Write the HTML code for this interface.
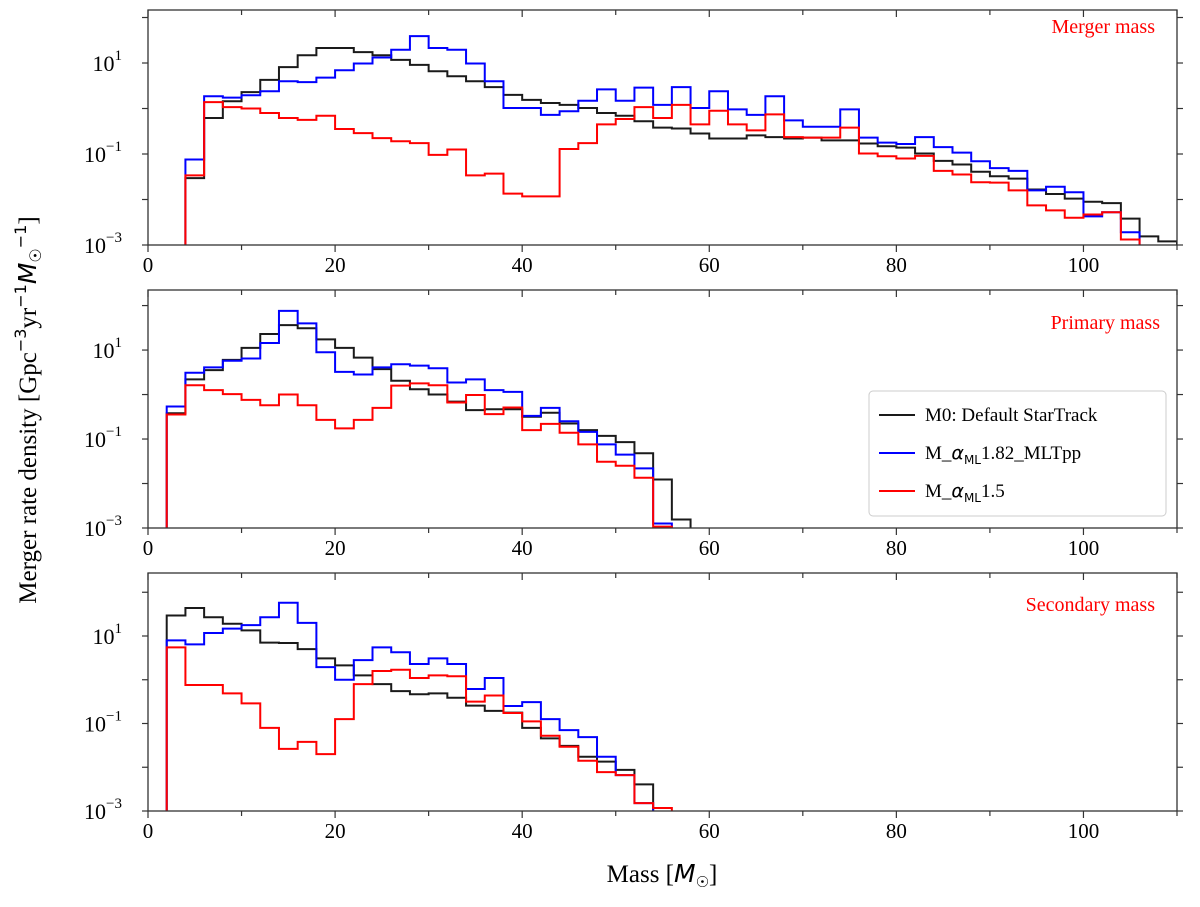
<!DOCTYPE html>
<html><head><meta charset="utf-8"><style>
body{margin:0;background:#fff}
svg text{font-family:"Liberation Serif",serif}
</style></head><body>
<svg id="chart" width="1200" height="902" viewBox="0 0 1200 902" xmlns="http://www.w3.org/2000/svg"></svg>
<script>
// log10 of merger rate density, 2-Msun bins
const mergerStart = 4;
const mergerBlack = [-1.53,-0.21,0.16,0.36,0.63,0.91,1.17,1.33,1.33,1.24,1.17,1.07,0.96,0.82,0.71,0.60,0.47,0.30,0.19,0.12,0.08,0.01,-0.10,-0.16,-0.28,-0.42,-0.44,-0.55,-0.66,-0.66,-0.59,-0.63,-0.66,-0.64,-0.70,-0.70,-0.77,-0.83,-0.86,-0.99,-1.15,-1.23,-1.39,-1.49,-1.54,-1.78,-1.88,-1.98,-2.05,-2.08,-2.42,-2.81,-2.92];
const mergerBlue = [-1.12,0.27,0.24,0.29,0.38,0.60,0.58,0.68,0.84,0.99,1.12,1.29,1.59,1.33,1.29,0.99,0.60,0.01,0.01,-0.14,-0.06,0.17,0.42,0.17,0.46,0.08,0.47,0.01,0.38,-0.02,-0.14,0.27,-0.26,-0.40,-0.40,-0.02,-0.64,-0.75,-0.78,-0.63,-0.85,-0.97,-1.16,-1.31,-1.37,-1.80,-1.72,-1.84,-2.37,-2.28,-2.72];
const mergerRed = [-1.47,0.14,0.03,0.00,-0.10,-0.21,-0.25,-0.16,-0.45,-0.54,-0.65,-0.72,-0.76,-1.02,-0.90,-1.47,-1.43,-1.87,-1.93,-1.93,-0.89,-0.76,-0.35,-0.23,0.03,-0.21,0.08,-0.35,-0.05,-0.35,-0.48,-0.13,-0.63,-0.64,-0.64,-0.42,-0.99,-1.05,-1.10,-1.04,-1.37,-1.45,-1.62,-1.63,-1.80,-2.13,-2.24,-2.40,-2.33,-2.28,-2.88];
const primaryStart = 2;
const primaryBlack = [-0.42,0.34,0.55,0.78,1.05,1.36,1.56,1.49,1.24,1.05,0.83,0.57,0.31,0.12,0.00,-0.16,-0.35,-0.33,-0.33,-0.50,-0.41,-0.65,-0.80,-0.93,-1.07,-1.32,-1.91,-2.81];
const primaryBlue = [-0.27,0.49,0.61,0.76,0.81,1.16,1.88,1.60,0.95,0.51,0.45,0.61,0.68,0.65,0.59,0.27,0.34,0.10,0.06,-0.48,-0.30,-0.60,-0.84,-1.12,-1.35,-1.66,-2.90];
const primaryRed = [-0.45,0.21,0.10,0.01,-0.12,-0.24,0.00,-0.24,-0.57,-0.76,-0.57,-0.30,0.20,0.25,0.21,-0.18,-0.01,-0.44,-0.29,-0.80,-0.66,-0.86,-1.12,-1.51,-1.60,-1.87,-2.97];
const secondaryStart = 2;
const secondaryBlack = [1.47,1.64,1.43,1.28,1.13,0.85,0.84,0.70,0.49,0.33,0.10,-0.10,-0.26,-0.33,-0.31,-0.41,-0.59,-0.71,-0.75,-1.10,-1.34,-1.51,-1.76,-1.87,-2.06,-2.39];
const secondaryBlue = [0.90,0.81,1.07,1.17,1.25,1.43,1.76,1.30,0.29,0.00,0.45,0.74,0.63,0.36,0.49,0.36,-0.21,0.04,-0.60,-0.51,-0.90,-1.15,-1.31,-1.76,-2.18,-2.82];
const secondaryRed = [0.74,-0.12,-0.12,-0.31,-0.54,-1.10,-1.58,-1.42,-1.70,-0.90,-0.10,0.20,0.23,0.04,0.10,0.08,-0.50,-0.36,-0.76,-0.95,-1.28,-1.53,-1.85,-2.11,-2.18,-2.82,-2.93];
const binWidth = 2;
const xTicks = [0,20,40,60,80,100];
const yTickLabels = [["10","1"],["10","\u22121"],["10","\u22123"]];

const NS="http://www.w3.org/2000/svg";
const svg=document.getElementById('chart');
function mk(tag,attrs,parent){const e=document.createElementNS(NS,tag);for(const k in attrs)e.setAttribute(k,attrs[k]);(parent||svg).appendChild(e);return e;}
const L=148,R=1177,XMAX=110;
const xs=v=>L+(v/XMAX)*(R-L);
const panels=[
 {name:'merger',top:10,bot:245,ytop:2.165,start:mergerStart,series:[mergerBlack,mergerBlue,mergerRed],label:'Merger mass',lx:1155,ly:33,xlabels:true},
 {name:'primary',top:290,bot:528,ytop:2.35,start:primaryStart,series:[primaryBlack,primaryBlue,primaryRed],label:'Primary mass',lx:1160,ly:329,xlabels:true},
 {name:'secondary',top:573,bot:811,ytop:2.44,start:secondaryStart,series:[secondaryBlack,secondaryBlue,secondaryRed],label:'Secondary mass',lx:1155,ly:611,xlabels:true}
];
const colors=['#1a1a1a','#0000ff','#ff0000'];
const snames=['m0','mlt','ml15'];
panels.forEach((p,pi)=>{
 const ys=v=>p.bot-(v-(-3))/(p.ytop+3)*(p.bot-p.top);
 const g=mk('g',{});
 
 
 const cid='clip'+pi;
 const cp=mk('clipPath',{id:cid},g);mk('rect',{x:L,y:p.top,width:R-L,height:p.bot-p.top},cp);
 // series
 p.series.forEach((arr,si)=>{
  let d='M'+xs(p.start)+','+p.bot;
  arr.forEach((v,i)=>{const x0=xs(p.start+i*binWidth),x1=xs(p.start+(i+1)*binWidth),y=ys(v);d+=' L'+x0+','+y+' L'+x1+','+y;});
  d+=' L'+xs(p.start+arr.length*binWidth)+','+p.bot;
  const path=mk('path',{d:d,fill:'none',stroke:colors[si],'stroke-width':2,'clip-path':'url(#'+cid+')'},g);
  
  
 });
 // frame
 const fr=mk('rect',{x:L,y:p.top,width:R-L,height:p.bot-p.top,fill:'none',stroke:'#333','stroke-width':1.3},g);
 
 
 // y ticks
 for(let e=-3;e<=Math.floor(p.ytop);e++){
  const y=ys(e);
  mk('line',{x1:L-6,x2:L,y1:y,y2:y,stroke:'#333','stroke-width':1.2},g);
  mk('line',{x1:R,x2:R+6,y1:y,y2:y,stroke:'#333','stroke-width':1.2},g);
 }
 yTickLabels.forEach((lab,i)=>{
  const e=1-2*i;const y=ys(e);
  const t=mk('text',{x:122,y:y+8,'font-size':22,'text-anchor':'end'},g);
  
  
  const a=mk('tspan',{},t);a.textContent=lab[0];
  const b=mk('tspan',{'font-size':15,dy:-11},t);b.textContent=lab[1];
 });
 // x ticks
 for(let v=0;v<=XMAX;v+=10){
  const x=xs(v),len=v%20===0?7:5;
  mk('line',{x1:x,x2:x,y1:p.bot,y2:p.bot+len,stroke:'#333','stroke-width':1.2},g);
  mk('line',{x1:x,x2:x,y1:p.top,y2:p.top+len,stroke:'#333','stroke-width':1.2},g);
 }
 xTicks.forEach(v=>{
  const t=mk('text',{x:xs(v),y:p.bot+27,'font-size':21,'text-anchor':'middle'},g);
  
  
  t.textContent=v;
 });
 const lt=mk('text',{x:p.lx,y:p.ly,'font-size':20,fill:'#ff0000','text-anchor':'end'},g);
 
 
 lt.textContent=p.label;
});
// legend
const lg=mk('g',{});


mk('rect',{x:869,y:391,width:297,height:125,rx:4,fill:'#fff',stroke:'#ccc','stroke-width':1},lg);
const legendItems=[
 {c:'#1a1a1a',html:'M0: Default StarTrack',n:'legend-m0'},
 {c:'#0000ff',html:'M_<tspan font-family="DejaVu Sans, sans-serif" font-style="italic">α</tspan><tspan font-family="DejaVu Sans, sans-serif" font-size="12" dy="5">ML</tspan><tspan dy="-5">1.82_MLTpp</tspan>',n:'legend-mlt'},
 {c:'#ff0000',html:'M_<tspan font-family="DejaVu Sans, sans-serif" font-style="italic">α</tspan><tspan font-family="DejaVu Sans, sans-serif" font-size="12" dy="5">ML</tspan><tspan dy="-5">1.5</tspan>',n:'legend-ml15'}
];
legendItems.forEach((it,i)=>{
 const y=415+i*38;
 const eg=mk('g',{},lg);
 
 
 mk('line',{x1:879,x2:915,y1:y,y2:y,stroke:it.c,'stroke-width':2},eg);
 const t=mk('text',{x:925,y:y+6,'font-size':19},eg);
 t.innerHTML=it.html;
});
// axis titles
const xt=mk('text',{x:662,y:882,'font-size':25,'text-anchor':'middle'});


xt.innerHTML='Mass [<tspan font-family="DejaVu Sans, sans-serif" font-style="italic">M</tspan><tspan font-family="DejaVu Sans, sans-serif" font-size="15" dy="5">☉</tspan><tspan dy="-5">]</tspan>';
const yt=mk('text',{x:0,y:0,'font-size':25,'text-anchor':'middle',transform:'translate(36,410) rotate(-90)'});


yt.innerHTML='Merger rate density [Gpc<tspan font-family="DejaVu Sans, sans-serif" font-size="16" dy="-10">−3</tspan><tspan dy="10">yr</tspan><tspan font-family="DejaVu Sans, sans-serif" font-size="16" dy="-10">−1</tspan><tspan font-family="DejaVu Sans, sans-serif" font-style="italic" dy="10">M</tspan><tspan font-family="DejaVu Sans, sans-serif" font-size="16" dy="5">☉</tspan><tspan font-family="DejaVu Sans, sans-serif" font-size="16" dy="-15">−1</tspan><tspan dy="10">]</tspan>';
</script>
</body></html>
